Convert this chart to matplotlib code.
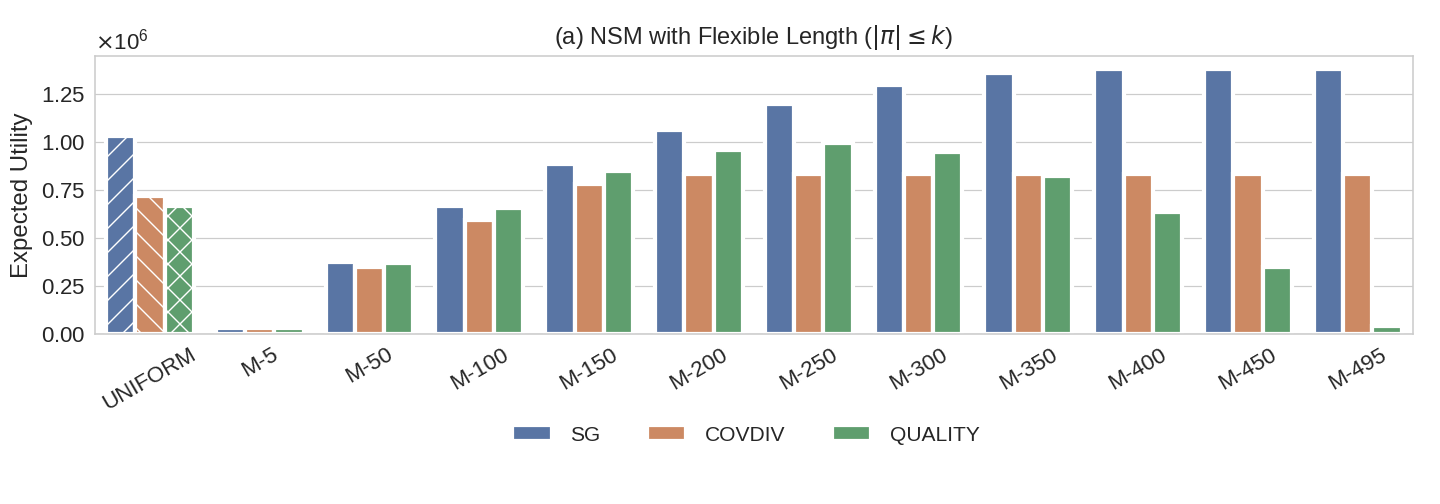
import matplotlib

matplotlib.use("Agg")
import matplotlib.pyplot as plt
import numpy as np
import seaborn as sns

# values (units of 1e6)
methods = ["UNIFORM", "M-5", "M-50", "M-100", "M-150", "M-200",
           "M-250", "M-300", "M-350", "M-400", "M-450", "M-495"]
series = ["SG", "COVDIV", "QUALITY"]
sg = [1.032, 0.030, 0.377, 0.666, 0.886, 1.064, 1.195, 1.295, 1.357, 1.378, 1.378, 1.378]
covdiv = [0.718, 0.030, 0.351, 0.592, 0.781, 0.833, 0.833, 0.833, 0.833, 0.833, 0.833, 0.833]
quality = [0.666, 0.030, 0.372, 0.655, 0.849, 0.959, 0.996, 0.949, 0.823, 0.634, 0.351, 0.042]
hatches = ["//", "\\\\", "xx"]

sns.set_theme(style="whitegrid")
plt.rcParams["font.family"] = ["Liberation Sans", "DejaVu Sans"]
plt.rcParams["mathtext.fontset"] = "dejavusans"
plt.rcParams["hatch.color"] = "white"
plt.rcParams["hatch.linewidth"] = 0.7
plt.rcParams["axes.linewidth"] = 0.8
plt.rcParams["grid.linewidth"] = 0.6
for a in ("xtick", "ytick"):
    plt.rcParams[f"{a}.major.size"] = 0
    plt.rcParams[f"{a}.major.pad"] = 5

# seaborn barplot draws with saturation=0.75
colors = [sns.desaturate(c, 0.75) for c in sns.color_palette("deep", 3)]

fig, ax = plt.subplots(figsize=(10, 3.5), dpi=144)
x = np.arange(len(methods))
width = 0.8 / 3
for i, (name, vals) in enumerate(zip(series, [sg, covdiv, quality])):
    vals = np.array(vals) * 1e6
    bars = ax.bar(x + (i - 1) * width, vals, width=width, color=colors[i],
                  edgecolor="white", linewidth=2.1, label=name)
    # only the UNIFORM bars carry a hatch
    bars[0].set_hatch(hatches[i])

ax.set_xticks(x)
ax.set_xticklabels(methods, rotation=30, fontsize=11.1)
ax.tick_params(axis="y", labelsize=11.1)
ax.set_xlim(-0.5, len(methods) - 0.5)
ax.set_ylim(0, 1.378e6 * 1.05)
ax.set_yticks([0, 0.25e6, 0.5e6, 0.75e6, 1.0e6, 1.25e6])
ax.ticklabel_format(axis="y", style="sci", scilimits=(0, 0), useMathText=True)
ax.yaxis.get_offset_text().set_fontsize(11.1)
ax.grid(axis="x", visible=False)
ax.set_ylabel("Expected Utility", fontsize=12)
ax.set_title(r"(a) NSM with Flexible Length ($|\pi| \leq k$)", fontsize=11.8)

leg = ax.legend(loc="upper center", bbox_to_anchor=(0.494, -0.26), ncol=3,
                frameon=False, fontsize=10.5, handlelength=1.86, handleheight=0.8,
                columnspacing=2.2, handletextpad=0.9)
for h in leg.legend_handles:
    h.set_hatch(None)

fig.subplots_adjust(left=0.066, right=0.981, top=0.889, bottom=0.337)
fig.savefig("out.png", dpi=144)
